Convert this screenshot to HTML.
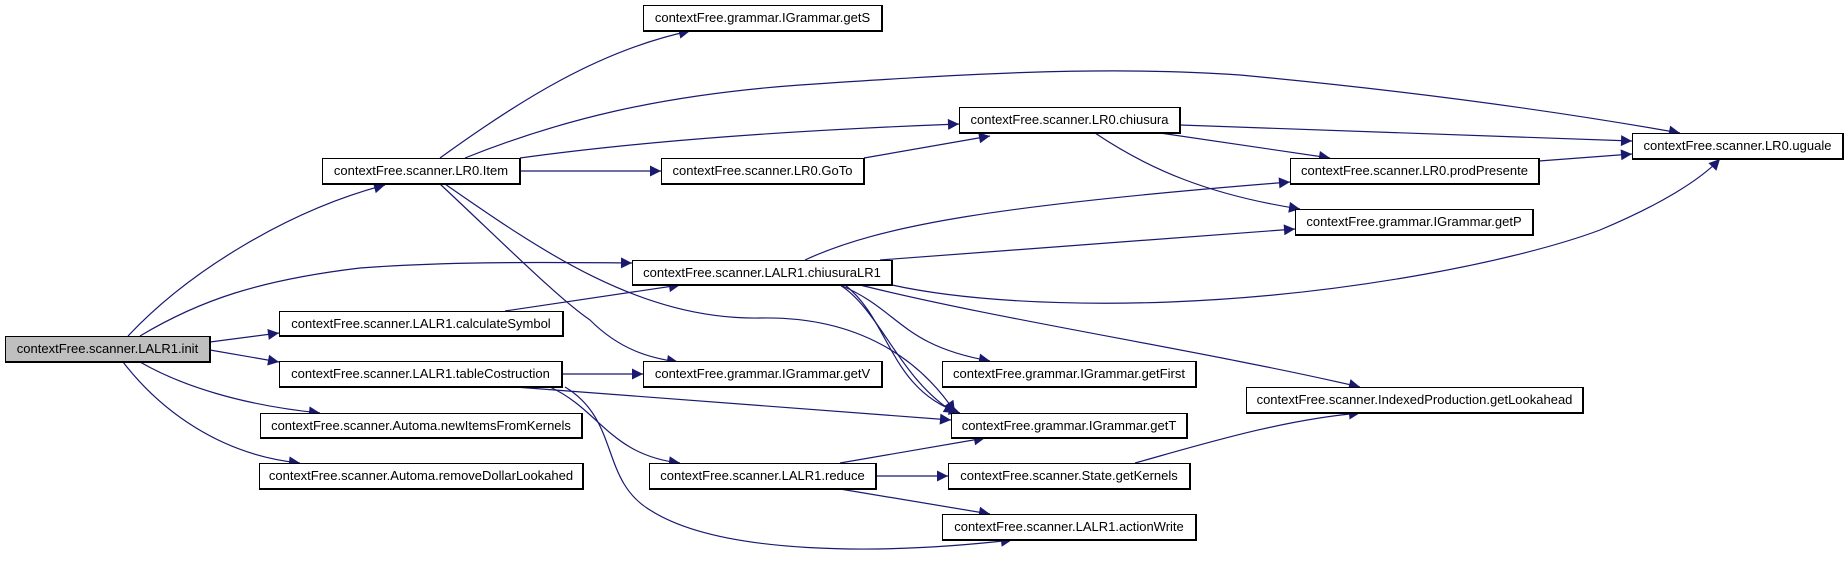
<!DOCTYPE html>
<html><head><meta charset="utf-8"><style>
html,body{margin:0;padding:0;background:#fff;}
body{width:1848px;height:562px;overflow:hidden;position:relative;}
.n{position:absolute;box-sizing:border-box;border:1px solid #000;border-right-width:2px;border-bottom-width:2px;background:#fff;font-family:"Liberation Sans",sans-serif;font-size:13px;line-height:23px;text-align:center;white-space:nowrap;color:#000;overflow:hidden;}
svg{position:absolute;left:0;top:0;}
</style></head><body>
<svg width="1848" height="562" viewBox="0 0 1848 562">
<defs><marker id="a" viewBox="0 0 10 10" refX="10" refY="5" markerWidth="13" markerHeight="11" markerUnits="userSpaceOnUse" orient="auto"><path d="M0,0L10,5L0,10z" fill="#191970"/></marker></defs>
<g fill="none" stroke="#191970" stroke-width="1.2" marker-end="url(#a)">
<path d="M128,336 C190,270 290,210 385,185"/>
<path d="M140,336 C200,300 260,280 360,268 C440,262 520,262 632,263"/>
<path d="M210,342 L279,333"/>
<path d="M210,350 L279,362"/>
<path d="M140,362 C180,385 240,405 320,413"/>
<path d="M123,362 C160,410 220,455 300,463"/>
<path d="M440,158 C520,100 600,50 690,31"/>
<path d="M465,158 C560,120 660,95 800,85 C950,75 1100,65 1240,75 C1400,90 1550,110 1680,133"/>
<path d="M520,158 C650,140 800,130 959,124"/>
<path d="M520,171 L661,171"/>
<path d="M440,184 C500,240 560,300 590,320 C620,350 650,358 678,362"/>
<path d="M445,184 C540,250 640,320 760,318 C860,316 920,360 955,412"/>
<path d="M864,158 L990,136"/>
<path d="M805,260 C880,225 1000,205 1290,182"/>
<path d="M880,260 L1295,229"/>
<path d="M892,285 C960,300 1060,306 1170,302 C1350,295 1520,260 1600,230 C1660,205 1700,180 1720,159"/>
<path d="M840,285 C900,310 900,345 990,361"/>
<path d="M840,285 C880,310 900,380 955,413"/>
<path d="M845,285 C890,320 890,390 960,413"/>
<path d="M860,285 C1000,320 1200,350 1360,387"/>
<path d="M505,311 L680,285"/>
<path d="M562,374 L643,374"/>
<path d="M515,387 L951,420"/>
<path d="M550,387 C600,410 610,455 680,463"/>
<path d="M565,387 C620,420 600,480 650,510 C720,555 880,555 1012,540"/>
<path d="M840,463 L985,438"/>
<path d="M876,476 L948,476"/>
<path d="M840,489 L990,514"/>
<path d="M1180,125 L1632,141"/>
<path d="M1160,133 L1330,158"/>
<path d="M1095,133 C1150,170 1210,195 1300,209"/>
<path d="M1539,161 L1632,154"/>
<path d="M1135,463 C1200,445 1280,420 1360,413"/>
</g>
</svg>
<div class="n" style="left:5px;top:336px;width:206px;height:27px;background:#bfbfbf;">contextFree.scanner.LALR1.init</div>
<div class="n" style="left:643px;top:5px;width:240px;height:27px;">contextFree.grammar.IGrammar.getS</div>
<div class="n" style="left:322px;top:158px;width:199px;height:27px;">contextFree.scanner.LR0.Item</div>
<div class="n" style="left:661px;top:158px;width:204px;height:27px;">contextFree.scanner.LR0.GoTo</div>
<div class="n" style="left:632px;top:260px;width:261px;height:26px;">contextFree.scanner.LALR1.chiusuraLR1</div>
<div class="n" style="left:279px;top:311px;width:285px;height:26px;">contextFree.scanner.LALR1.calculateSymbol</div>
<div class="n" style="left:279px;top:361px;width:284px;height:27px;">contextFree.scanner.LALR1.tableCostruction</div>
<div class="n" style="left:643px;top:361px;width:240px;height:27px;">contextFree.grammar.IGrammar.getV</div>
<div class="n" style="left:260px;top:413px;width:323px;height:26px;">contextFree.scanner.Automa.newItemsFromKernels</div>
<div class="n" style="left:259px;top:463px;width:325px;height:27px;">contextFree.scanner.Automa.removeDollarLookahed</div>
<div class="n" style="left:649px;top:463px;width:228px;height:27px;">contextFree.scanner.LALR1.reduce</div>
<div class="n" style="left:959px;top:107px;width:222px;height:27px;">contextFree.scanner.LR0.chiusura</div>
<div class="n" style="left:1632px;top:133px;width:212px;height:27px;">contextFree.scanner.LR0.uguale</div>
<div class="n" style="left:1290px;top:158px;width:250px;height:27px;">contextFree.scanner.LR0.prodPresente</div>
<div class="n" style="left:1295px;top:209px;width:239px;height:27px;">contextFree.grammar.IGrammar.getP</div>
<div class="n" style="left:942px;top:361px;width:255px;height:27px;">contextFree.grammar.IGrammar.getFirst</div>
<div class="n" style="left:1246px;top:387px;width:338px;height:27px;">contextFree.scanner.IndexedProduction.getLookahead</div>
<div class="n" style="left:951px;top:413px;width:237px;height:26px;">contextFree.grammar.IGrammar.getT</div>
<div class="n" style="left:948px;top:463px;width:243px;height:27px;">contextFree.scanner.State.getKernels</div>
<div class="n" style="left:942px;top:514px;width:255px;height:27px;">contextFree.scanner.LALR1.actionWrite</div>
</body></html>
